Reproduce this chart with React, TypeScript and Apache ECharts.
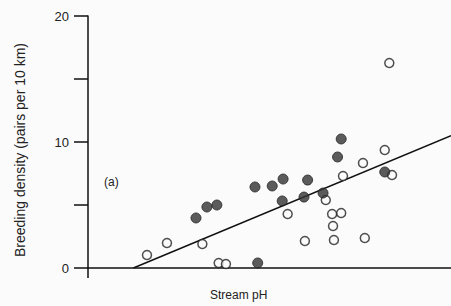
import React, { useEffect, useRef } from "react";
import * as echarts from "echarts";

// Stream pH (x) vs breeding density (pairs per 10 km) (y)
const filledPoints: [number, number][] = [
  [5.19, 3.97], [5.31, 4.84], [5.42, 5.0], [5.84, 6.43], [6.03, 6.51],
  [6.15, 7.06], [6.14, 5.32], [5.87, 0.4], [6.42, 6.98], [6.38, 5.63],
  [6.59, 5.95], [6.79, 10.24], [6.75, 8.81], [7.27, 7.62],
];
const openPoints: [number, number][] = [
  [4.65, 1.03], [4.87, 1.98], [5.26, 1.9], [5.44, 0.4], [5.52, 0.32],
  [6.2, 4.29], [7.32, 16.27], [7.27, 9.37], [7.03, 8.33], [6.81, 7.3],
  [7.35, 7.38], [6.62, 5.4], [6.69, 4.29], [6.79, 4.37], [6.7, 3.33],
  [6.39, 2.14], [6.71, 2.22], [7.05, 2.38],
];
const regressionLine: [number, number][] = [[4.5, 0], [8.0, 10.5]];
const yTickLabels = ["0", "10", "20"];

export default function App() {
  const ref = useRef<HTMLDivElement>(null);
  useEffect(() => {
    if (!ref.current) return;
    const chart = echarts.init(ref.current, null, { renderer: "svg" });
    const font = "'Liberation Sans', Arial, sans-serif";
    chart.setOption({
      animation: false,
      backgroundColor: "#fbfbfb",
      textStyle: { fontFamily: font },
      grid: { left: 88, right: 0, top: 16, bottom: 38 },
      xAxis: {
        type: "value",
        min: 4,
        max: 8,
        axisLine: { show: true, lineStyle: { color: "#111", width: 1.5 } },
        axisTick: { show: true, customValues: [4], length: 10, lineStyle: { color: "#111", width: 1.5 } },
        axisLabel: { show: false },
        splitLine: { show: false },
      },
      yAxis: {
        type: "value",
        min: 0,
        max: 20,
        interval: 5,
        axisLine: { show: true, lineStyle: { color: "#111", width: 1.5 } },
        axisTick: { show: true, length: 14, lineStyle: { color: "#111", width: 1.5 } },
        axisLabel: {
          margin: 19,
          fontSize: 13,
          color: "#222",
          fontFamily: font,
          formatter: (v: number) => (yTickLabels.includes(String(v)) ? String(v) : ""),
        },
        splitLine: { show: false },
      },
      graphic: [
        {
          type: "text",
          x: 20,
          y: 150,
          rotation: Math.PI / 2,
          style: {
            text: "Breeding density (pairs per 10 km)",
            fontSize: 14,
            fill: "#222",
            fontFamily: font,
            align: "center",
            verticalAlign: "middle",
          },
        },
        { type: "text", left: 210, top: 289, style: { text: "Stream pH", fontSize: 12, fill: "#222", fontFamily: font } },
        { type: "text", left: 104, top: 176, style: { text: "(a)", fontSize: 12, fill: "#222", fontFamily: font } },
      ],
      series: [
        {
          type: "line",
          data: regressionLine,
          showSymbol: false,
          symbol: "none",
          lineStyle: { color: "#111", width: 1.5 },
          z: 1,
        },
        {
          type: "scatter",
          data: openPoints,
          symbol: "circle",
          symbolSize: 9,
          itemStyle: { color: "#fbfbfb", borderColor: "#222", borderWidth: 1.5 },
          z: 3,
        },
        {
          type: "scatter",
          data: filledPoints,
          symbol: "circle",
          symbolSize: 10,
          itemStyle: { color: "#333", borderColor: "#222", borderWidth: 1 },
          z: 4,
        },
      ],
    });
    return () => chart.dispose();
  }, []);
  return (
    <div
      ref={ref}
      style={{ position: "fixed", left: 0, top: 0, width: 451, height: 306 }}
    />
  );
}
